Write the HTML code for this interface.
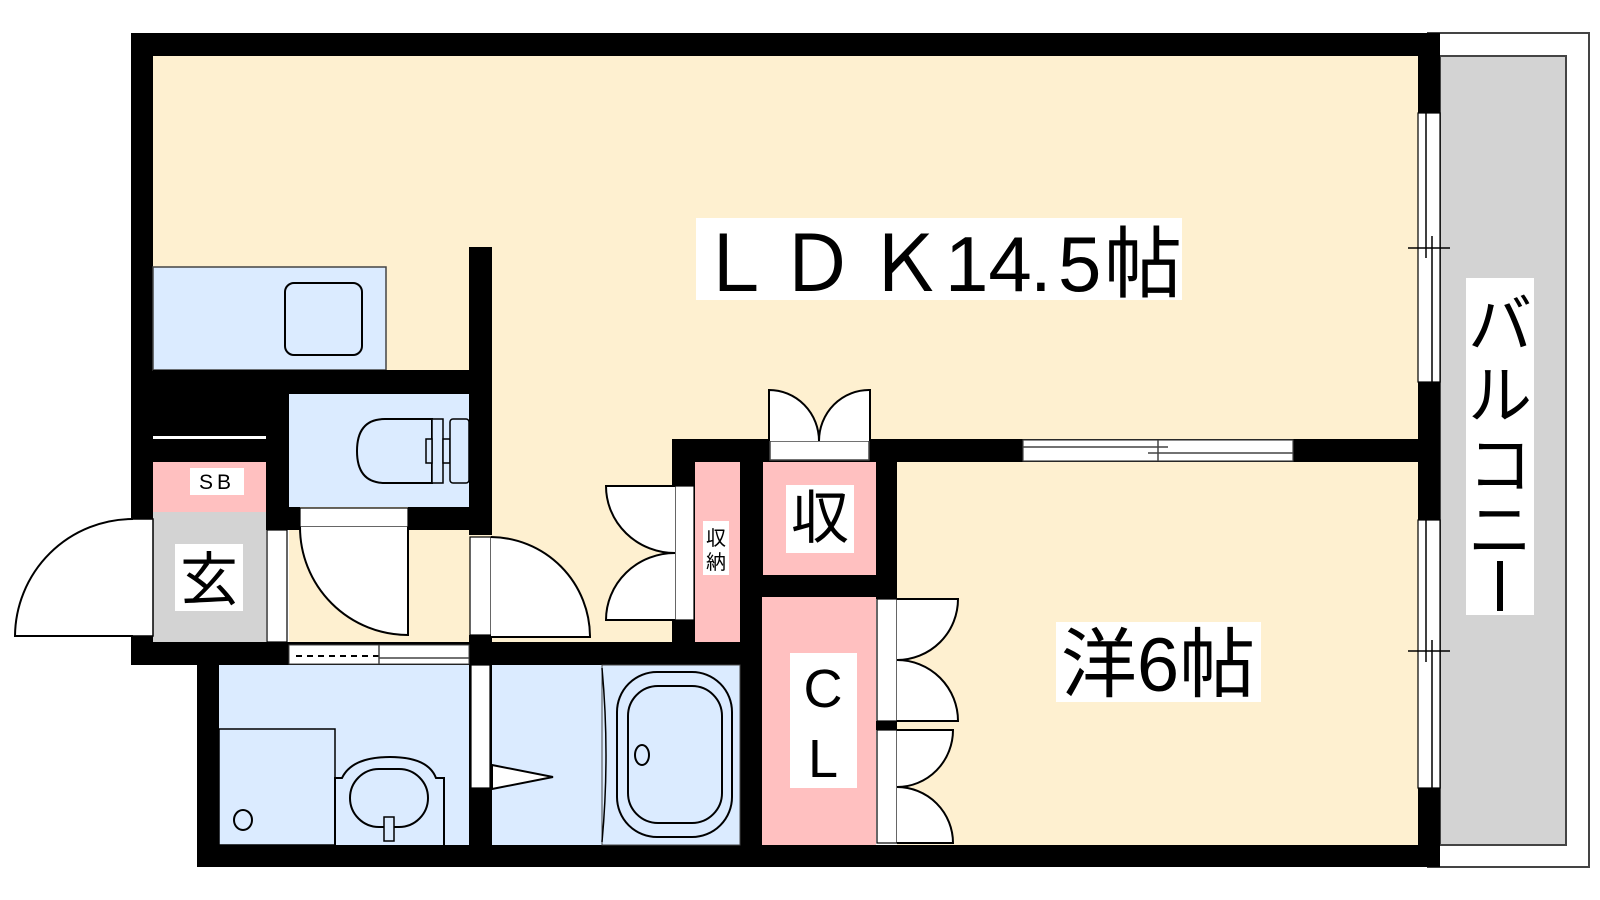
<!DOCTYPE html>
<html><head><meta charset="utf-8"><style>
html,body{margin:0;padding:0;background:#fff;width:1600px;height:900px;overflow:hidden}
svg{display:block}
text{font-family:"Liberation Sans","Noto Sans CJK JP",sans-serif;fill:#000}
</style></head><body>
<svg width="1600" height="900" viewBox="0 0 1600 900" xmlns="http://www.w3.org/2000/svg">
<!-- balcony -->
<rect x="1428" y="33" width="161" height="834" fill="#fff" stroke="#444" stroke-width="2"/>
<rect x="1440" y="56" width="126" height="789" fill="#d3d3d3" stroke="#444" stroke-width="2"/>
<rect x="1466" y="278" width="68" height="337" fill="#fff"/>
<text x="1500" y="347" font-size="64" text-anchor="middle">バ</text>
<text x="1500" y="418" font-size="64" text-anchor="middle">ル</text>
<text x="1500" y="488" font-size="64" text-anchor="middle">コ</text>
<text x="1500" y="553" font-size="64" text-anchor="middle">ニ</text>
<rect x="1497" y="561" width="6" height="50" fill="#000"/>

<!-- outer walls -->
<rect x="131" y="33" width="1309" height="23" fill="#000"/>
<rect x="1418" y="33" width="22" height="834" fill="#000"/>
<rect x="131" y="33" width="22" height="632" fill="#000"/>
<rect x="197" y="642" width="22" height="225" fill="#000"/>
<rect x="131" y="642" width="632" height="23" fill="#000"/>
<rect x="197" y="845" width="1243" height="22" fill="#000"/>

<!-- LDK beige -->
<rect x="153" y="56" width="1265" height="406" fill="#fef0d0"/>
<rect x="897" y="462" width="521" height="383" fill="#fef0d0"/>
<rect x="289" y="462" width="383" height="180" fill="#fef0d0"/>

<!-- kitchen -->
<rect x="153" y="267" width="233" height="103" fill="#dbebff" stroke="#444" stroke-width="1.5"/>
<rect x="285" y="283" width="77" height="72" rx="9" fill="#dbebff" stroke="#000" stroke-width="2"/>

<!-- partition wall -->
<rect x="469" y="247" width="23" height="288" fill="#000"/>
<rect x="469" y="635" width="23" height="30" fill="#000"/>
<rect x="153" y="370" width="339" height="24" fill="#000"/>
<rect x="153" y="370" width="136" height="92" fill="#000"/>
<rect x="153" y="436" width="113" height="3" fill="#fff"/>
<rect x="266" y="394" width="23" height="136" fill="#000"/>
<rect x="266" y="507" width="34" height="23" fill="#000"/>
<rect x="408" y="507" width="84" height="23" fill="#000"/>

<!-- toilet -->
<rect x="289" y="394" width="180" height="113" fill="#dbebff"/>
<path d="M432,419 L385,419 Q357,419 357,451 Q357,483 385,483 L432,483 Z" fill="#dbebff" stroke="#000" stroke-width="2"/>
<rect x="432" y="419" width="11" height="64" fill="#dbebff" stroke="#000" stroke-width="1.5"/>
<rect x="426" y="439" width="6" height="24" fill="#dbebff" stroke="#000" stroke-width="1.5"/>
<rect x="443" y="439" width="7" height="24" fill="#dbebff" stroke="#000" stroke-width="1.5"/>
<rect x="450" y="419" width="19" height="64" rx="3" fill="#dbebff" stroke="#000" stroke-width="1.5"/>

<!-- SB -->
<rect x="153" y="462" width="113" height="50" fill="#ffc0c0"/>
<rect x="190" y="468" width="54" height="27" fill="#fff"/>
<text x="217" y="489" font-size="21" text-anchor="middle" letter-spacing="4">SB</text>

<!-- entry -->
<rect x="153" y="512" width="113" height="130" fill="#d3d3d3"/>
<rect x="175" y="544" width="68" height="67" fill="#fff"/>
<text x="209" y="600" font-size="58" text-anchor="middle">玄</text>
<rect x="131" y="519" width="22" height="117" fill="#fff" stroke="#000" stroke-width="1.5"/>
<path d="M133,519 A118,118 0 0 0 15,636 L133,636" fill="#fff" stroke="#000" stroke-width="2"/>
<rect x="267" y="530" width="20" height="112" fill="#fff" stroke="#000" stroke-width="1.2"/>

<!-- hallway doors -->
<rect x="300" y="508" width="108" height="19" fill="#fff" stroke="#000" stroke-width="1.2"/>
<path d="M300,527 A108,108 0 0 0 408,635 L408,527" fill="#fff" stroke="#000" stroke-width="2"/>
<rect x="470" y="537" width="21" height="98" fill="#fff" stroke="#000" stroke-width="1.2"/>
<path d="M491,537 A100,100 0 0 1 590,637 L491,637" fill="#fff" stroke="#000" stroke-width="2"/>

<!-- closets 収納 / 収 -->
<rect x="672" y="439" width="746" height="23" fill="#000"/>
<rect x="672" y="439" width="23" height="226" fill="#000"/>
<rect x="740" y="439" width="23" height="406" fill="#000"/>
<rect x="876" y="439" width="21" height="160" fill="#000"/>
<rect x="763" y="575" width="134" height="22" fill="#000"/>
<rect x="876" y="721" width="21" height="9" fill="#000"/>
<rect x="695" y="462" width="45" height="180" fill="#ffc0c0"/>
<rect x="703" y="521" width="26" height="54" fill="#fff"/>
<text x="716" y="545" font-size="20" text-anchor="middle">収</text>
<text x="716" y="569" font-size="20" text-anchor="middle">納</text>
<rect x="763" y="462" width="113" height="113" fill="#ffc0c0"/>
<rect x="786" y="485" width="68" height="68" fill="#fff"/>
<text x="820" y="538" font-size="58" text-anchor="middle">収</text>
<rect x="770" y="441" width="99" height="19" fill="#fff" stroke="#444" stroke-width="1.5"/>
<path d="M769,441 L769,390 A50,51 0 0 1 819,441 A50,51 0 0 1 870,390 L870,441" fill="#fff" stroke="#000" stroke-width="2"/>
<rect x="675" y="486" width="19" height="134" fill="#fff" stroke="#000" stroke-width="1.2"/>
<path d="M675,486 L606,486 A69,67 0 0 0 675,553 A69,67 0 0 0 606,620 L675,620" fill="#fff" stroke="#000" stroke-width="2"/>

<!-- LDK window -->
<rect x="1023" y="440" width="270" height="21" fill="#fff" stroke="#444" stroke-width="1.2"/>
<line x1="1023" y1="447" x2="1168" y2="447" stroke="#444" stroke-width="1.5"/>
<line x1="1148" y1="453" x2="1293" y2="453" stroke="#444" stroke-width="1.5"/>
<line x1="1158" y1="440" x2="1158" y2="461" stroke="#444" stroke-width="1.5"/>

<!-- right windows -->
<rect x="1418" y="113" width="22" height="269" fill="#fff" stroke="#000" stroke-width="1.2"/>
<line x1="1426" y1="113" x2="1426" y2="258" stroke="#000" stroke-width="1.5"/>
<line x1="1432" y1="236" x2="1432" y2="382" stroke="#000" stroke-width="1.5"/>
<line x1="1408" y1="248" x2="1450" y2="248" stroke="#000" stroke-width="1.5"/>
<rect x="1418" y="520" width="22" height="268" fill="#fff" stroke="#000" stroke-width="1.2"/>
<line x1="1426" y1="520" x2="1426" y2="662" stroke="#000" stroke-width="1.5"/>
<line x1="1432" y1="640" x2="1432" y2="788" stroke="#000" stroke-width="1.5"/>
<line x1="1408" y1="651" x2="1450" y2="651" stroke="#000" stroke-width="1.5"/>

<!-- CL -->
<rect x="762" y="597" width="114" height="248" fill="#ffc0c0"/>
<rect x="790" y="653" width="67" height="135" fill="#fff"/>
<text x="823" y="707" font-size="54" text-anchor="middle">C</text>
<text x="823" y="777" font-size="54" text-anchor="middle">L</text>
<rect x="877" y="599" width="20" height="122" fill="#fff" stroke="#000" stroke-width="1.2"/>
<path d="M897,599 L958,599 A61,61 0 0 1 897,660 A61,61 0 0 1 958,721 L897,721" fill="#fff" stroke="#000" stroke-width="2"/>
<rect x="877" y="730" width="20" height="113" fill="#fff" stroke="#000" stroke-width="1.2"/>
<path d="M897,730 L953,730 A56,57 0 0 1 897,787 A56,56 0 0 1 953,843 L897,843" fill="#fff" stroke="#000" stroke-width="2"/>

<!-- washroom -->
<rect x="219" y="665" width="250" height="180" fill="#dbebff"/>
<rect x="469" y="665" width="23" height="180" fill="#000"/>
<rect x="289" y="645" width="180" height="19" fill="#fff" stroke="#444" stroke-width="1"/>
<line x1="296" y1="656" x2="379" y2="656" stroke="#000" stroke-width="2" stroke-dasharray="6,5"/>
<line x1="379" y1="645" x2="379" y2="664" stroke="#444" stroke-width="1.5"/>
<line x1="379" y1="658" x2="469" y2="658" stroke="#444" stroke-width="1.5"/>
<rect x="219" y="729" width="116" height="116" fill="#dbebff" stroke="#000" stroke-width="1.5"/>
<ellipse cx="243" cy="820" rx="9" ry="10" fill="none" stroke="#000" stroke-width="2"/>
<path d="M335,845 L335,778 L342,778 Q352,757 390,757 Q428,757 436,778 L444,778 L444,845" fill="#dbebff" stroke="#000" stroke-width="2"/>
<rect x="350" y="769" width="78" height="58" rx="29" fill="#dbebff" stroke="#000" stroke-width="2"/>
<rect x="384" y="817" width="10" height="24" fill="#dbebff" stroke="#000" stroke-width="1.5"/>

<!-- bath -->
<rect x="492" y="665" width="248" height="180" fill="#dbebff"/>
<rect x="471" y="665" width="19" height="123" fill="#fff" stroke="#000" stroke-width="1.2"/>
<path d="M492,765 L553,777 L492,789 Z" fill="#fff" stroke="#000" stroke-width="2"/>
<rect x="602" y="665" width="138" height="180" fill="#dbebff" stroke="#444" stroke-width="1"/>
<path d="M602,668 Q610,755 602,842" fill="none" stroke="#000" stroke-width="1.5"/>
<rect x="617" y="672" width="115" height="165" rx="40" fill="#dbebff" stroke="#000" stroke-width="2"/>
<rect x="628" y="686" width="94" height="137" rx="30" fill="#dbebff" stroke="#000" stroke-width="2"/>
<ellipse cx="642" cy="755" rx="7" ry="10" fill="none" stroke="#000" stroke-width="2"/>

<!-- labels -->
<rect x="696" y="218" width="486" height="82" fill="#fff"/>
<text y="291" font-size="78"><tspan x="696">Ｌ</tspan><tspan x="778">Ｄ</tspan><tspan x="866">Ｋ</tspan><tspan x="945">14</tspan><tspan x="1030">.</tspan><tspan x="1058">5</tspan><tspan x="1104">帖</tspan></text>
<rect x="1056" y="622" width="205" height="80" fill="#fff"/>
<text x="1158" y="691" font-size="76" text-anchor="middle">洋6帖</text>
</svg>
</body></html>
